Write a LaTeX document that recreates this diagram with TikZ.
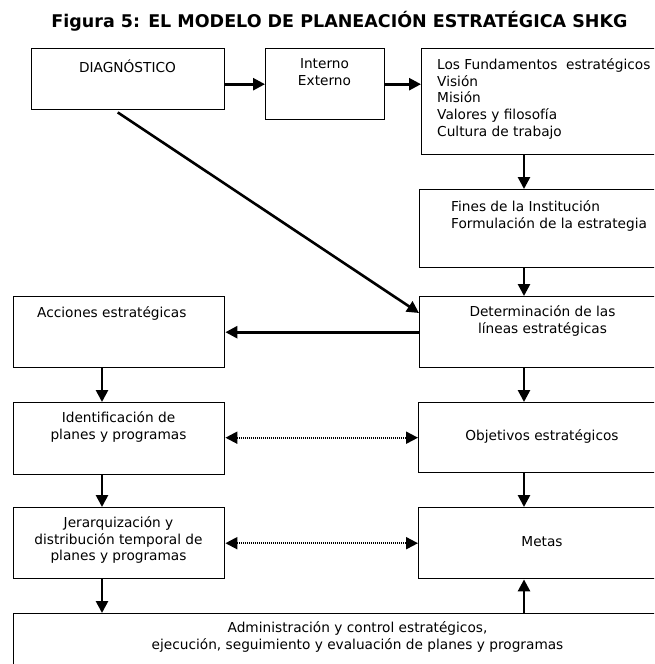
\documentclass[tikz,border=0pt]{standalone}
\usepackage{fontspec}
\setmainfont{DejaVu Sans}
\usetikzlibrary{arrows.meta}

\tikzset{
    caja/.style={draw, line width=1.4pt, anchor=north west, inner sep=0pt},
    texto/.style={inner sep=0pt, anchor=north, align=center,
        font=\fontsize{13.7}{16.75}\selectfont, execute at begin node=\strut},
    flecha/.style={line width=2.6pt, -{Triangle[length=12pt,width=12pt]}},
    punteada/.style={line width=2pt, dash pattern=on 1.2pt off 0.8pt,
        {Triangle[length=12pt,width=12pt]}-{Triangle[length=12pt,width=12pt]}},
}

\begin{document}
\begin{tikzpicture}[x=1pt, y=-1pt]
            % Rahmen
            \useasboundingbox (0,0) rectangle (654,664);
            \clip (0,0) rectangle (654,664);

            % Titel
            \node[anchor=base, inner sep=0pt, font=\fontsize{17.5}{20}\selectfont\bfseries] (titulo) at (339.5,27)
                {Figura 5: EL MODELO DE PLANEACIÓN ESTRATÉGICA SHKG};

            % Cajas
            \node[caja, minimum width=193pt, minimum height=61pt] (diag) at (31,48) {};
            \node[caja, minimum width=119pt, minimum height=71pt] (intext) at (265,48) {};
            \node[caja, minimum width=260pt, minimum height=106pt] (fund) at (421,48) {};
            \node[caja, minimum width=262pt, minimum height=78pt] (fines) at (419,189) {};
            \node[caja, minimum width=247pt, minimum height=71pt] (deter) at (419,296) {};
            \node[caja, minimum width=211pt, minimum height=71pt] (acc) at (13,296) {};
            \node[caja, minimum width=211pt, minimum height=72pt] (ident) at (13,402) {};
            \node[caja, minimum width=248pt, minimum height=70pt] (obj) at (418,402) {};
            \node[caja, minimum width=211pt, minimum height=71pt] (jer) at (13,507) {};
            \node[caja, minimum width=248pt, minimum height=71pt] (metas) at (418,507) {};
            \node[caja, minimum width=689pt, minimum height=80pt] (admin) at (13,613) {};

            % Texte
            \node[texto] (tdiag) at (127.5,59.3) {DIAGNÓSTICO};
            \node[texto] (tintext) at (324.5,58.3) {Interno\\Externo};
            \node[texto, anchor=north west, align=left] (tfund) at (437,58.3)
                {Los Fundamentos\ \ estratégicos\\Visión\\Misión\\Valores y filosofía\\Cultura de trabajo};
            \node[texto, anchor=north west, align=left] (tfines) at (451,200.3)
                {Fines de la Institución\\Formulación de la estrategia};
            \node[texto] (tdeter) at (542.5,305.3) {Determinación de las\\líneas estratégicas};
            \node[texto, anchor=north west] (tacc) at (37,305.3) {Acciones estratégicas};
            \node[texto] (tident) at (118.5,411.3) {Identificación de\\planes y programas};
            \node[texto] (tobj) at (542,428.3) {Objetivos estratégicos};
            \node[texto] (tjer) at (118.5,516.3) {Jerarquización y\\distribución temporal de\\planes y programas};
            \node[texto] (tmetas) at (542,534.3) {Metas};
            \node[texto] (tadmin) at (357.5,621.3)
                {Administración y control estratégicos,\\ejecución, seguimiento y evaluación de planes y programas};

            % Spalten der Pfeile
            \coordinate (colL) at (102,0);
            \coordinate (colR) at (524,0);

            % Pfeile
            \draw[flecha] (diag.east |- intext.west) -- (intext.west);
            \draw[flecha] (intext.east) -- (intext.east -| fund.west);
            \draw[flecha] ([xshift=-10.5pt, yshift=-2pt]diag.south) -- ([yshift=-17pt]deter.north west);
            \draw[flecha] (deter.west) -- (deter.west -| acc.east);
            \foreach \a/\b in {fund/fines, fines/deter, deter/obj, obj/metas} {
                \draw[flecha] (\a.south -| colR) -- (\b.north -| colR);
            }
            \foreach \a/\b in {acc/ident, ident/jer, jer/admin} {
                \draw[flecha] (\a.south -| colL) -- (\b.north -| colL);
            }
            \draw[flecha] (admin.north -| colR) -- (metas.south -| colR);
            \draw[punteada] (ident.east |- obj.west) -- (obj.west);
            \draw[punteada] (jer.east |- metas.west) -- (metas.west);
        \end{tikzpicture}
\end{document}
